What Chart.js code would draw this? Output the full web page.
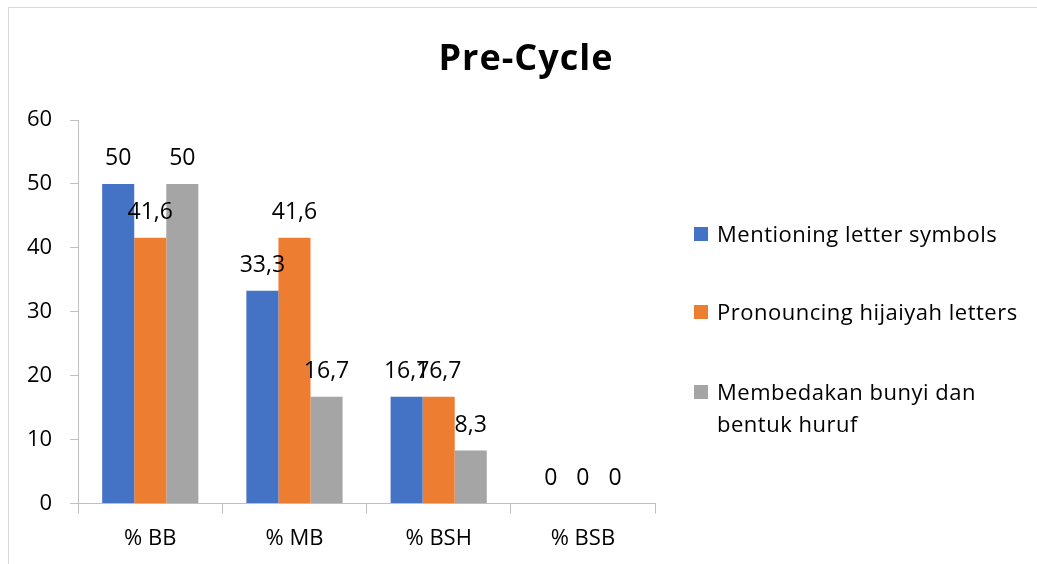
<!DOCTYPE html>
<html>
<head>
<meta charset="utf-8">
<script src="https://cdn.jsdelivr.net/npm/chart.js@4"></script>
<style>
	html, body { margin: 0; padding: 0; background: #fff; overflow: hidden; }
	#wrap { position: relative; width: 1037px; height: 564px; }
	#frame { position: absolute; left: 8px; top: 7px; width: 1100px; height: 700px; border: 1px solid #d9d9d9; }
	canvas { position: absolute; left: 0; top: 0; }
</style>
</head>
<body>
<div id="wrap">
	<div id="frame"></div>
	<canvas id="preCycle" width="1037" height="564"></canvas>
</div>
<script>
Chart.defaults.font.family = "'Open Sans'";
Chart.defaults.font.size = 22;
Chart.defaults.color = "#000";

// data
var categories = ["% BB", "% MB", "% BSH", "% BSB"];
var mentioning = [50, 33.3, 16.7, 0];
var pronouncing = [41.6, 41.6, 16.7, 0];
var membedakan = [50, 16.7, 8.3, 0];
var yTicks = [0, 10, 20, 30, 40, 50, 60];
var titleText = "Pre-Cycle";
var legendText = [
	["Mentioning letter symbols"],
	["Pronouncing hijaiyah letters"],
	["Membedakan bunyi dan", "bentuk huruf"],
];

function formatValue(v) {
	// comma as decimal separator
	return String(v).replace(".", ",");
}

// value labels on top of every bar
var valueLabels = {
	id: "valueLabels",
	afterDatasetsDraw: function (chart) {
		var ctx = chart.ctx;
		ctx.save();
		ctx.font = "23px 'Open Sans'";
		ctx.fillStyle = "#000";
		ctx.textAlign = "center";
		ctx.textBaseline = "alphabetic";
		chart.data.datasets.forEach(function (ds, i) {
			chart.getDatasetMeta(i).data.forEach(function (bar, j) {
				ctx.fillText(formatValue(ds.data[j]), bar.x, bar.y - 19);
			});
		});
		ctx.restore();
	},
};

// title + legend on the right, with wrapped text
var sideLegend = {
	id: "sideLegend",
	afterDraw: function (chart) {
		var ctx = chart.ctx;
		ctx.save();
		ctx.fillStyle = "#000";
		ctx.textAlign = "center";
		ctx.textBaseline = "alphabetic";
		ctx.font = "bold 36px 'Open Sans'";
		ctx.letterSpacing = "1px";
		ctx.fillText(titleText, 526, 70);

		var rows = [242, 320, 400];
		ctx.textAlign = "left";
		ctx.font = "22px 'Open Sans'";
		ctx.letterSpacing = "0.5px";
		chart.data.datasets.forEach(function (ds, i) {
			ctx.fillStyle = ds.backgroundColor;
			ctx.fillRect(694, rows[i] - 15, 14, 14);
			ctx.fillStyle = "#000";
			legendText[i].forEach(function (line, k) {
				ctx.fillText(line, 717, rows[i] + k * 32);
			});
		});
		ctx.restore();
	},
};

var canvas = document.getElementById("preCycle");
var preCycleChart = new Chart(canvas, {
	type: "bar",
	data: {
		labels: categories,
		datasets: [
			{
				label: legendText[0].join(" "),
				backgroundColor: "#4472C4",
				data: mentioning,
			},
			{
				label: legendText[1].join(" "),
				backgroundColor: "#ED7D31",
				data: pronouncing,
			},
			{
				label: legendText[2].join(" "),
				backgroundColor: "#A5A5A5",
				data: membedakan,
			},
		],
	},
	options: {
		responsive: false,
		animation: false,
		categoryPercentage: 0.667,
		barPercentage: 1,
		layout: {
			padding: { left: 9, right: 382, top: 120, bottom: 0 },
		},
		plugins: {
			legend: { display: false },
			tooltip: { enabled: false },
			title: { display: false },
		},
		scales: {
			x: {
				grid: {
					drawOnChartArea: false,
					drawTicks: true,
					tickLength: 10,
					color: "#bfbfbf",
				},
				border: { color: "#bfbfbf" },
				ticks: { padding: 12 },
			},
			y: {
				min: 0,
				max: 60,
				afterBuildTicks: function (axis) {
					axis.ticks = yTicks.map(function (v) {
						return { value: v };
					});
				},
				grid: {
					drawOnChartArea: false,
					drawTicks: true,
					tickLength: 8,
					color: "#bfbfbf",
				},
				border: { color: "#bfbfbf" },
				ticks: { padding: 18 },
			},
		},
	},
	plugins: [valueLabels, sideLegend],
});
</script>
</body>
</html>
